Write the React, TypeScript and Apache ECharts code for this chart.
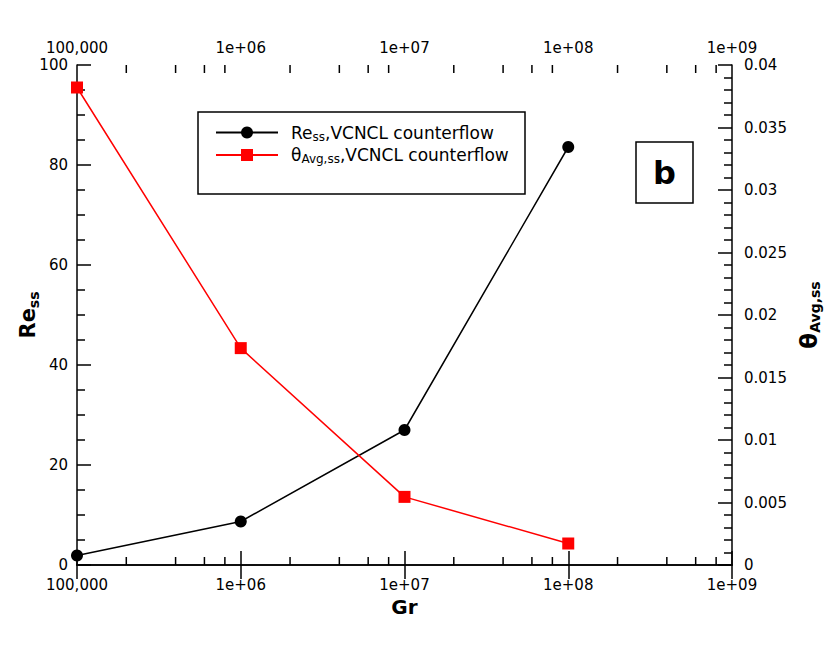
import React, { useEffect, useRef } from "react";
import * as echarts from "echarts";

const grValues = [1e5, 1e6, 1e7, 1e8];
const reValues = [1.9, 8.7, 27.0, 83.6];
const thetaValues = [0.0382, 0.01735, 0.00545, 0.00172];
const xTickLabels = ["100,000", "1e+06", "1e+07", "1e+08", "1e+09"];
const xMinorTicks = [
  2e5, 4e5, 6e5, 8e5, 2e6, 4e6, 6e6, 8e6, 2e7, 4e7, 6e7, 8e7, 2e8, 4e8, 6e8, 8e8,
];

const FONT = "DejaVu Sans";

function xLabel(v: number) {
  const idx = Math.round(Math.log10(v)) - 5;
  return xTickLabels[idx] ?? "";
}

export default function App() {
  const ref = useRef<HTMLDivElement>(null);
  useEffect(() => {
    document.body.style.margin = "0";
    const chart = echarts.init(ref.current!, null, { renderer: "svg" });
    const axisLine = { show: true, lineStyle: { color: "#000", width: 1.5 } };
    const xCommon = {
      type: "log",
      logBase: 10,
      min: 1e5,
      max: 1e9,
      axisLine,
      axisTick: { show: true, inside: true, length: 14, lineStyle: { color: "#000", width: 1.5 } },
      splitLine: { show: false },
      axisLabel: {
        formatter: xLabel,
        fontFamily: FONT,
        fontSize: 15,
        color: "#000",
        showMinLabel: true,
        showMaxLabel: true,
      },
    };
    const option: any = {
      animation: false,
      textStyle: { fontFamily: FONT },
      grid: { left: 77, right: 97, top: 65, bottom: 80, containLabel: false },
      xAxis: [
        {
          ...xCommon,
          position: "bottom",
          name: "Gr",
          nameLocation: "middle",
          nameGap: 32,
          nameMoveOverlap: false,
          nameTextStyle: { fontFamily: FONT, fontSize: 20, fontWeight: "bold", color: "#000" },
          axisLabel: { ...xCommon.axisLabel, margin: 12 },
        },
        {
          ...xCommon,
          position: "top",
          axisLabel: { ...xCommon.axisLabel, margin: 10 },
        },
      ],
      yAxis: [
        {
          type: "value",
          min: 0,
          max: 100,
          interval: 20,
          position: "left",
          axisLine,
          axisTick: { show: true, inside: true, length: 14, lineStyle: { color: "#000", width: 1.5 } },
          minorTick: { show: true, splitNumber: 4, length: 8, lineStyle: { color: "#000", width: 1.5 } },
          splitLine: { show: false },
          axisLabel: { fontFamily: FONT, fontSize: 15, color: "#000", margin: 9 },
          name: "{b|Re}{s|ss}",
          nameLocation: "middle",
          nameRotate: 90,
          nameGap: 36,
          nameMoveOverlap: false,
          nameTextStyle: {
            rich: {
              b: { fontFamily: FONT, fontSize: 21, fontWeight: "bold", color: "#000", lineHeight: 26 },
              s: { fontFamily: FONT, fontSize: 14, fontWeight: "bold", color: "#000", verticalAlign: "bottom", lineHeight: 16 },
            },
          },
        },
        {
          type: "value",
          min: 0,
          max: 0.04,
          interval: 0.005,
          position: "right",
          axisLine,
          axisTick: { show: true, inside: true, length: 14, lineStyle: { color: "#000", width: 1.5 } },
          minorTick: { show: true, splitNumber: 5, length: 8, lineStyle: { color: "#000", width: 1.5 } },
          splitLine: { show: false },
          axisLabel: { fontFamily: FONT, fontSize: 15, color: "#000", margin: 12 },
          name: "{b|θ}{s|Avg,ss}",
          nameLocation: "middle",
          nameRotate: 90,
          nameGap: 64,
          nameMoveOverlap: false,
          nameTextStyle: {
            rich: {
              b: { fontFamily: FONT, fontSize: 23, fontWeight: "bold", color: "#000", lineHeight: 26 },
              s: { fontFamily: FONT, fontSize: 14, fontWeight: "bold", color: "#000", verticalAlign: "bottom", lineHeight: 16 },
            },
          },
        },
      ],
      legend: {
        orient: "vertical",
        left: 215,
        top: 124,
        padding: 0,
        itemWidth: 62,
        itemHeight: 15,
        itemGap: 4,
        data: ["Re", "theta"],
        formatter: (name: string) =>
          name === "Re"
            ? "{n|Re}{s|ss}{n|,VCNCL counterflow}"
            : "{n|θ}{s|Avg,ss}{n|,VCNCL counterflow}",
        textStyle: {
          padding: [0, 0, 0, 8],
          rich: {
            n: { fontFamily: FONT, fontSize: 17, color: "#000", lineHeight: 20 },
            s: { fontFamily: FONT, fontSize: 12, color: "#000", verticalAlign: "bottom", lineHeight: 13 },
          },
        },
      },
      graphic: [
        {
          type: "rect",
          shape: { x: 198, y: 112, width: 327, height: 82 },
          style: { fill: "none", stroke: "#000", lineWidth: 1.5 },
          z: 100,
        },
        {
          type: "rect",
          shape: { x: 636, y: 142, width: 57, height: 61 },
          style: { fill: "#fff", stroke: "#000", lineWidth: 1.5 },
          z: 100,
        },
        {
          type: "text",
          x: 664.5,
          y: 173,
          style: {
            text: "b",
            font: `bold 32px "${FONT}"`,
            fill: "#000",
            align: "center",
            verticalAlign: "middle",
          },
          z: 101,
        },
      ],
      series: [
        {
          name: "Re",
          type: "line",
          xAxisIndex: 0,
          yAxisIndex: 0,
          data: grValues.map((g, i) => [g, reValues[i]]),
          symbol: "circle",
          symbolSize: 12,
          lineStyle: { color: "#000", width: 1.5 },
          itemStyle: { color: "#000" },
          clip: false,
          z: 3,
        },
        {
          name: "theta",
          type: "line",
          xAxisIndex: 0,
          yAxisIndex: 1,
          data: grValues.map((g, i) => [g, thetaValues[i]]),
          symbol: "rect",
          symbolSize: 12,
          lineStyle: { color: "#ff0000", width: 1.5 },
          itemStyle: { color: "#ff0000" },
          clip: false,
          z: 3,
        },
        {
          type: "custom",
          xAxisIndex: 0,
          yAxisIndex: 0,
          silent: true,
          clip: false,
          data: xMinorTicks.map((v) => [v]),
          renderItem: (params: any, api: any) => {
            const v = api.value(0);
            const b = api.coord([v, 0]);
            const t = api.coord([v, 100]);
            const st = { stroke: "#000", lineWidth: 1.5 };
            return {
              type: "group",
              children: [
                { type: "line", shape: { x1: b[0], y1: b[1], x2: b[0], y2: b[1] - 8 }, style: st },
                { type: "line", shape: { x1: t[0], y1: t[1], x2: t[0], y2: t[1] + 8 }, style: st },
              ],
            };
          },
          z: 2,
        },
      ],
    };
    chart.setOption(option);
    return () => chart.dispose();
  }, []);
  return <div ref={ref} style={{ width: 830, height: 645 }} />;
}
